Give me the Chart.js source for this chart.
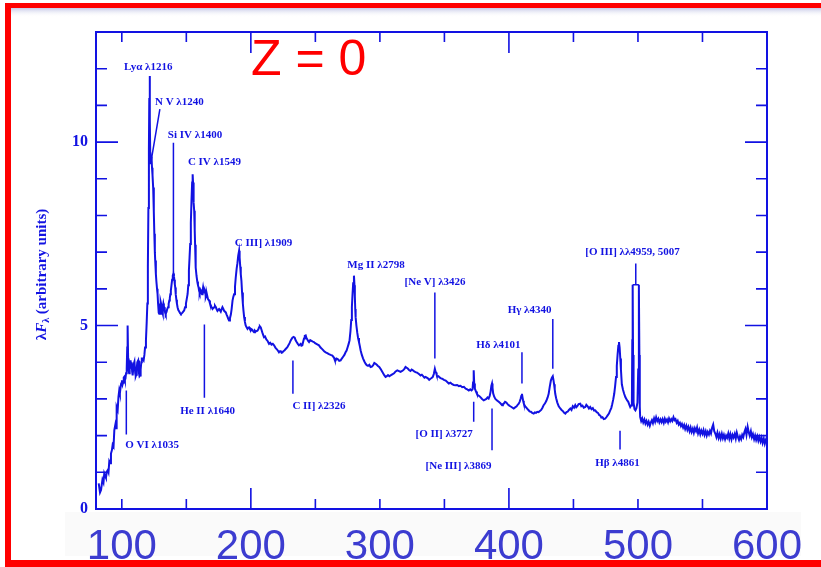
<!DOCTYPE html>
<html>
<head>
<meta charset="utf-8">
<script src="https://cdn.jsdelivr.net/npm/chart.js@4.4.1/dist/chart.umd.min.js"></script>
<style>
  html, body { margin: 0; padding: 0; background: #fff; }
  canvas { display: block; }
</style>
</head>
<body>
<canvas id="quasar" width="821" height="567"></canvas>
<script>
// composite quasar spectrum, rest frame (Z = 0)
// wavelength in Angstrom, flux = lambda*F_lambda (arbitrary units)
var wavelength = [
  821, 831, 839, 850, 858, 864, 871, 877, 884, 891,
  897, 903, 910, 916, 923, 929, 936, 942, 950, 955,
  960, 968, 974, 980, 985, 990, 995, 1001, 1006, 1010,
  1015, 1019, 1024, 1028, 1033, 1038, 1042, 1045, 1049, 1053,
  1057, 1061, 1068, 1072, 1076, 1080, 1084, 1088, 1092, 1098,
  1104, 1108, 1112, 1116, 1120, 1127, 1133, 1137, 1141, 1146,
  1151, 1155, 1160, 1169, 1175, 1180, 1187, 1193, 1198, 1202,
  1206, 1210, 1213, 1216, 1218, 1221, 1225, 1228, 1231, 1234,
  1238, 1243, 1248, 1252, 1256, 1259, 1264, 1268, 1273, 1277,
  1281, 1284, 1288, 1290, 1294, 1297, 1301, 1305, 1308, 1310,
  1313, 1316, 1319, 1322, 1326, 1329, 1333, 1336, 1339, 1342,
  1347, 1352, 1358, 1363, 1368, 1372, 1376, 1380, 1385, 1390,
  1395, 1400, 1404, 1407, 1411, 1414, 1418, 1423, 1427, 1432,
  1438, 1445, 1451, 1458, 1464, 1470, 1476, 1483, 1490, 1497,
  1503, 1510, 1515, 1520, 1525, 1530, 1535, 1540, 1545, 1549,
  1552, 1555, 1558, 1561, 1565, 1568, 1571, 1574, 1579, 1585,
  1590, 1595, 1599, 1603, 1608, 1612, 1617, 1622, 1626, 1630,
  1634, 1638, 1642, 1646, 1649, 1652, 1656, 1659, 1664, 1668,
  1672, 1677, 1683, 1690, 1696, 1703, 1710, 1716, 1722, 1729,
  1735, 1741, 1748, 1754, 1760, 1767, 1773, 1780, 1786, 1793,
  1799, 1806, 1812, 1818, 1825, 1831, 1838, 1845, 1851, 1858,
  1864, 1870, 1877, 1883, 1890, 1896, 1902, 1909, 1913, 1918,
  1922, 1927, 1932, 1938, 1943, 1948, 1954, 1960, 1967, 1974,
  1980, 1986, 1993, 1999, 2006, 2012, 2019, 2025, 2032, 2038,
  2045, 2051, 2058, 2064, 2070, 2077, 2083, 2090, 2096, 2102,
  2110, 2120, 2130, 2141, 2150, 2160, 2170, 2180, 2190, 2200,
  2209, 2218, 2225, 2232, 2238, 2245, 2252, 2260, 2270, 2283,
  2291, 2300, 2310, 2322, 2331, 2340, 2347, 2355, 2364, 2373,
  2380, 2386, 2392, 2399, 2405, 2412, 2418, 2425, 2431, 2438,
  2444, 2451, 2460, 2470, 2480, 2489, 2498, 2508, 2518, 2528,
  2540, 2555, 2568, 2580, 2592, 2605, 2618, 2632, 2645, 2651,
  2657, 2665, 2675, 2685, 2696, 2705, 2715, 2725, 2734, 2742,
  2750, 2758, 2765, 2772, 2778, 2783, 2788, 2793, 2799, 2803,
  2806, 2809, 2812, 2818, 2825, 2831, 2838, 2844, 2851, 2860,
  2870, 2880, 2889, 2898, 2908, 2918, 2928, 2938, 2948, 2957,
  2967, 2976, 2985, 2995, 3005, 3015, 3025, 3035, 3044, 3054,
  3063, 3073, 3083, 3096, 3110, 3122, 3135, 3148, 3160, 3170,
  3180, 3190, 3199, 3208, 3218, 3228, 3237, 3246, 3256, 3266,
  3276, 3285, 3295, 3305, 3315, 3325, 3335, 3345, 3354, 3363,
  3372, 3382, 3392, 3401, 3410, 3418, 3426, 3431, 3435, 3440,
  3444, 3454, 3465, 3474, 3483, 3496, 3510, 3522, 3534, 3547,
  3560, 3573, 3586, 3599, 3612, 3625, 3638, 3651, 3665, 3677,
  3689, 3700, 3710, 3718, 3722, 3727, 3731, 3736, 3745, 3752,
  3760, 3770, 3779, 3792, 3805, 3815, 3825, 3834, 3843, 3851,
  3858, 3864, 3869, 3873, 3878, 3886, 3895, 3908, 3921, 3934,
  3947, 3953, 3960, 3970, 3980, 3990, 3998, 4010, 4020, 4028,
  4037, 4048, 4060, 4068, 4076, 4083, 4090, 4096, 4101, 4105,
  4110, 4115, 4120, 4130, 4140, 4147, 4153, 4160, 4170, 4180,
  4192, 4200, 4210, 4220, 4230, 4240, 4250, 4260, 4269, 4280,
  4290, 4300, 4308, 4316, 4325, 4333, 4340, 4345, 4350, 4355,
  4359, 4366, 4375, 4386, 4398, 4408, 4420, 4428, 4437, 4446,
  4455, 4465, 4476, 4485, 4495, 4505, 4514, 4522, 4530, 4540,
  4553, 4561, 4570, 4580, 4592, 4600, 4610, 4620, 4630, 4640,
  4650, 4660, 4669, 4680, 4690, 4700, 4708, 4716, 4725, 4735,
  4746, 4755, 4765, 4775, 4785, 4793, 4800, 4808, 4816, 4823,
  4830, 4836, 4842, 4848, 4853, 4858, 4863, 4868, 4875, 4884,
  4893, 4902, 4910, 4918, 4925, 4932, 4940, 4947, 4953, 4956,
  4959, 4962, 4966, 4973, 4980, 4988, 4996, 5002, 5007, 5011,
  5014, 5017, 5025, 5033, 5041, 5050, 5058, 5066, 5075, 5083,
  5092, 5100, 5108, 5116, 5125, 5133, 5141, 5150, 5158, 5166,
  5175, 5183, 5191, 5200, 5208, 5216, 5225, 5233, 5241, 5250,
  5258, 5266, 5275, 5283, 5291, 5300, 5308, 5316, 5325, 5333,
  5341, 5350, 5358, 5366, 5375, 5383, 5391, 5400, 5408, 5416,
  5425, 5433, 5441, 5450, 5458, 5466, 5475, 5483, 5491, 5500,
  5508, 5516, 5525, 5533, 5541, 5550, 5558, 5566, 5575, 5583,
  5591, 5600, 5608, 5616, 5625, 5633, 5641, 5650, 5658, 5666,
  5675, 5683, 5691, 5700, 5708, 5716, 5725, 5733, 5741, 5750,
  5758, 5766, 5775, 5783, 5791, 5800, 5808, 5816, 5825, 5833,
  5841, 5850, 5858, 5866, 5875, 5883, 5891, 5900, 5908, 5916,
  5925, 5933, 5941, 5950, 5958, 5966, 5975, 5983, 5991, 5998
];
var flux = [
  0.70, 0.45, 0.52, 0.80, 0.72, 0.97, 0.90, 0.85, 1.02, 1.06,
  1.00, 1.30, 1.25, 1.51, 1.60, 1.75, 1.70, 2.15, 2.30, 2.20,
  2.78, 2.70, 3.05, 3.23, 3.15, 3.30, 3.42, 3.51, 3.40, 3.45,
  3.58, 3.60, 3.52, 3.55, 3.70, 3.82, 4.40, 5.00, 4.10, 3.78,
  3.70, 3.80, 4.05, 3.85, 4.00, 3.75, 3.64, 3.80, 3.95, 4.02,
  3.70, 3.62, 3.66, 3.85, 4.00, 4.05, 3.70, 3.62, 3.64, 3.80,
  4.00, 4.10, 4.10, 4.05, 4.20, 4.40, 4.59, 5.10, 5.60, 6.60,
  8.20, 9.80, 11.20, 11.80, 10.60, 9.48, 9.40, 9.60, 9.55, 9.30,
  9.10, 8.76, 8.10, 7.50, 7.00, 6.77, 6.40, 6.20, 6.00, 5.86,
  5.60, 5.50, 5.35, 5.32, 5.50, 5.55, 5.65, 5.59, 5.40, 5.30,
  5.38, 5.32, 5.50, 5.60, 5.52, 5.50, 5.40, 5.35, 5.30, 5.32,
  5.38, 5.45, 5.50, 5.59, 5.68, 5.75, 5.85, 5.95, 6.10, 6.25,
  6.36, 6.42, 6.35, 6.25, 6.12, 6.04, 5.85, 5.70, 5.60, 5.50,
  5.42, 5.38, 5.34, 5.32, 5.33, 5.35, 5.38, 5.41, 5.50, 5.60,
  5.72, 5.86, 6.10, 6.50, 6.85, 7.22, 7.80, 8.40, 8.90, 9.12,
  8.90, 8.60, 8.35, 8.13, 7.60, 7.20, 6.85, 6.58, 6.35, 6.20,
  6.10, 6.04, 5.95, 5.90, 5.98, 5.95, 5.88, 5.85, 5.95, 6.04,
  5.95, 5.90, 5.98, 5.95, 5.84, 5.78, 5.84, 5.86, 5.78, 5.72,
  5.70, 5.68, 5.60, 5.55, 5.50, 5.45, 5.48, 5.50, 5.54, 5.50,
  5.44, 5.40, 5.43, 5.45, 5.42, 5.38, 5.44, 5.50, 5.46, 5.40,
  5.38, 5.36, 5.30, 5.25, 5.18, 5.14, 5.20, 5.30, 5.45, 5.68,
  5.78, 5.85, 6.05, 6.31, 6.55, 6.70, 6.90, 7.04, 6.85, 6.60,
  6.40, 6.22, 5.90, 5.60, 5.40, 5.23, 5.10, 5.00, 4.95, 4.91,
  4.94, 4.95, 4.90, 4.86, 4.90, 4.88, 4.84, 4.82, 4.86, 4.84,
  4.85, 4.86, 4.90, 4.95, 4.98, 4.95, 4.88, 4.80, 4.74, 4.68,
  4.70, 4.62, 4.58, 4.50, 4.53, 4.48, 4.50, 4.46, 4.40, 4.36,
  4.32, 4.27, 4.30, 4.30, 4.26, 4.27, 4.30, 4.32, 4.36, 4.41,
  4.46, 4.52, 4.60, 4.67, 4.69, 4.67, 4.60, 4.55, 4.50, 4.46,
  4.48, 4.50, 4.45, 4.46, 4.55, 4.65, 4.72, 4.73, 4.66, 4.62,
  4.58, 4.55, 4.60, 4.58, 4.56, 4.55, 4.52, 4.50, 4.48, 4.46,
  4.40, 4.35, 4.30, 4.27, 4.25, 4.22, 4.20, 4.18, 4.12, 4.06,
  4.05, 4.10, 4.08, 4.04, 4.05, 4.10, 4.15, 4.20, 4.27, 4.32,
  4.41, 4.50, 4.60, 4.85, 5.15, 5.50, 5.85, 6.15, 6.36, 6.10,
  5.80, 5.45, 5.23, 5.00, 4.80, 4.66, 4.55, 4.45, 4.32, 4.20,
  4.10, 4.02, 3.96, 3.92, 3.90, 3.93, 3.87, 3.88, 3.92, 3.98,
  3.96, 3.93, 3.90, 3.87, 3.82, 3.76, 3.70, 3.64, 3.60, 3.62,
  3.65, 3.62, 3.64, 3.67, 3.70, 3.75, 3.78, 3.76, 3.74, 3.76,
  3.78, 3.82, 3.87, 3.85, 3.82, 3.78, 3.76, 3.80, 3.78, 3.75,
  3.73, 3.72, 3.70, 3.67, 3.64, 3.66, 3.62, 3.58, 3.60, 3.58,
  3.56, 3.52, 3.55, 3.57, 3.60, 3.68, 3.82, 3.75, 3.72, 3.66,
  3.60, 3.62, 3.58, 3.56, 3.55, 3.52, 3.50, 3.46, 3.42, 3.44,
  3.40, 3.38, 3.37, 3.38, 3.35, 3.36, 3.32, 3.33, 3.28, 3.26,
  3.23, 3.26, 3.23, 3.26, 3.45, 3.78, 3.42, 3.28, 3.20, 3.14,
  3.10, 3.08, 3.05, 3.00, 2.96, 2.98, 3.00, 3.04, 3.01, 3.08,
  3.20, 3.36, 3.42, 3.30, 3.15, 3.06, 3.00, 2.96, 2.92, 2.88,
  2.83, 2.86, 2.87, 2.92, 2.90, 2.86, 2.83, 2.80, 2.78, 2.76,
  2.74, 2.77, 2.80, 2.84, 2.87, 2.92, 3.00, 3.08, 3.14, 3.05,
  2.95, 2.88, 2.83, 2.78, 2.74, 2.71, 2.69, 2.66, 2.65, 2.62,
  2.60, 2.63, 2.62, 2.65, 2.64, 2.67, 2.70, 2.76, 2.83, 2.88,
  2.95, 3.04, 3.14, 3.32, 3.50, 3.58, 3.62, 3.52, 3.40, 3.26,
  3.14, 3.02, 2.90, 2.80, 2.74, 2.70, 2.66, 2.62, 2.60, 2.64,
  2.65, 2.70, 2.74, 2.70, 2.80, 2.76, 2.83, 2.77, 2.80, 2.86,
  2.87, 2.80, 2.82, 2.76, 2.78, 2.84, 2.80, 2.74, 2.78, 2.72,
  2.75, 2.68, 2.69, 2.64, 2.62, 2.56, 2.55, 2.49, 2.50, 2.45,
  2.46, 2.50, 2.55, 2.60, 2.69, 2.75, 2.85, 2.98, 3.14, 3.35,
  3.60, 3.90, 4.20, 4.45, 4.55, 4.40, 4.10, 3.80, 3.40, 3.25,
  3.14, 3.05, 3.00, 2.95, 2.92, 2.85, 2.78, 2.82, 2.90, 4.60,
  6.11, 4.20, 2.90, 2.72, 2.69, 2.75, 2.90, 3.80, 6.11, 4.20,
  2.80, 2.51, 2.40, 2.47, 2.36, 2.44, 2.33, 2.40, 2.30, 2.38,
  2.27, 2.36, 2.42, 2.34, 2.47, 2.38, 2.50, 2.40, 2.46, 2.36,
  2.44, 2.37, 2.45, 2.35, 2.46, 2.38, 2.44, 2.36, 2.47, 2.39,
  2.45, 2.40, 2.50, 2.42, 2.45, 2.35, 2.40, 2.30, 2.35, 2.26,
  2.32, 2.22, 2.29, 2.18, 2.27, 2.16, 2.24, 2.12, 2.22, 2.10,
  2.19, 2.08, 2.20, 2.12, 2.22, 2.06, 2.16, 2.04, 2.14, 2.05,
  2.15, 2.02, 2.12, 2.00, 2.10, 2.03, 2.13, 2.06, 2.22, 2.30,
  2.12, 2.05, 1.96, 2.08, 1.94, 2.04, 1.92, 2.05, 1.93, 2.02,
  1.90, 2.00, 1.94, 2.06, 1.92, 2.04, 1.90, 2.02, 1.95, 2.05,
  1.92, 2.08, 1.96, 1.88, 1.98, 1.90, 2.02, 1.96, 2.10, 2.18,
  2.02, 2.24, 2.10, 2.00, 2.12, 1.96, 2.04, 1.90, 2.00, 1.88,
  1.98, 1.86, 1.96, 1.84, 1.94, 1.80, 1.92, 1.78, 1.88, 1.82
];

// axis ticks
var xTickValues = [1000, 2000, 3000, 4000, 5000, 6000];
var xTickLabels = ['100', '200', '300', '400', '500', '600'];
var xTickMarks = [1000, 1500, 2000, 2500, 3000, 3500, 4000, 4500, 5000, 5500];
var xMajorMarks = [2000, 4000];
var yTickValues = [0, 5, 10];
var yTickLabels = ['0', '5', '10'];
var yTickMarks = [1, 2, 3, 4, 5, 6, 7, 8, 9, 10, 11, 12];
var yMajorMarks = [5, 10];

// emission line labels (left edge of text, baseline) in data units
var lineNames = ['Ly\u03b1 \u03bb1216', 'N V \u03bb1240', 'Si IV \u03bb1400', 'C IV \u03bb1549',
  'C III] \u03bb1909', 'Mg II \u03bb2798', '[Ne V] \u03bb3426', 'H\u03b4 \u03bb4101',
  'H\u03b3 \u03bb4340', '[O III] \u03bb\u03bb4959, 5007', 'H\u03b2 \u03bb4861', 'O VI \u03bb1035',
  'He II \u03bb1640', 'C II] \u03bb2326', '[O II] \u03bb3727', '[Ne III] \u03bb3869'];
var labelX = [1017, 1257, 1357, 1512, 1876, 2748, 3191, 3746, 3990, 4592, 4669, 1027, 1452, 2322, 3276, 3354];
var labelY = [11.96, 11.0, 10.11, 9.38, 7.17, 6.58, 6.11, 4.40, 5.33, 6.93, 1.17, 1.66, 2.58, 2.72, 1.96, 1.09];

// marker strokes [x1, y1, x2, y2]
var markerLines = [
  [1295, 10.9, 1226, 9.46],
  [1400, 9.98, 1400, 6.45],
  [3426, 5.90, 3426, 4.10],
  [4101, 4.27, 4101, 3.42],
  [4340, 5.18, 4340, 3.82],
  [4983, 6.69, 4983, 6.11],
  [4959, 6.11, 5007, 6.11],
  [4861, 2.13, 4861, 1.62],
  [1035, 3.23, 1035, 2.03],
  [1640, 5.03, 1640, 3.03],
  [2326, 4.05, 2326, 3.14],
  [3727, 2.92, 3727, 2.38],
  [3869, 2.74, 3869, 1.60]
];

var blue = '#1212e2';
var serif = '"Liberation Serif", "Times New Roman", serif';

var extras = {
  id: 'extras',
  beforeDraw: function(chart) {
    var ctx = chart.ctx, a = chart.chartArea;
    ctx.save();
    ctx.fillStyle = '#ffffff';
    ctx.fillRect(0, 0, chart.width, chart.height);
    // pale box behind the big wavelength numbers
    ctx.fillStyle = '#fafafa';
    ctx.fillRect(a.left - 31, a.bottom + 3, a.right - a.left + 65, 44);
    ctx.restore();
  },
  afterDatasetsDraw: function(chart) {
    var ctx = chart.ctx, a = chart.chartArea;
    var xs = chart.scales.x, ys = chart.scales.y;
    ctx.save();
    ctx.strokeStyle = blue;
    ctx.lineWidth = 2;
    ctx.strokeRect(a.left, a.top, a.right - a.left, a.bottom - a.top);

    // inward ticks on all four sides
    ctx.lineWidth = 1.6;
    ctx.beginPath();
    xTickMarks.forEach(function(v) {
      var px = xs.getPixelForValue(v);
      var len = xMajorMarks.indexOf(v) >= 0 ? 21 : 10;
      ctx.moveTo(px, a.bottom); ctx.lineTo(px, a.bottom - len);
      ctx.moveTo(px, a.top); ctx.lineTo(px, a.top + len);
    });
    yTickMarks.forEach(function(v) {
      var py = ys.getPixelForValue(v);
      var len = yMajorMarks.indexOf(v) >= 0 ? 22 : 11;
      ctx.moveTo(a.left, py); ctx.lineTo(a.left + len, py);
      ctx.moveTo(a.right, py); ctx.lineTo(a.right - len, py);
    });
    ctx.stroke();

    // line markers
    ctx.lineWidth = 1.5;
    ctx.beginPath();
    markerLines.forEach(function(m) {
      ctx.moveTo(xs.getPixelForValue(m[0]), ys.getPixelForValue(m[1]));
      ctx.lineTo(xs.getPixelForValue(m[2]), ys.getPixelForValue(m[3]));
    });
    ctx.stroke();

    // line names
    ctx.fillStyle = blue;
    ctx.font = 'bold 11px ' + serif;
    ctx.textAlign = 'left';
    ctx.textBaseline = 'alphabetic';
    lineNames.forEach(function(name, i) {
      ctx.fillText(name, xs.getPixelForValue(labelX[i]), ys.getPixelForValue(labelY[i]));
    });

    // y axis title: lambda F_lambda (arbitrary units)
    ctx.translate(42, (a.top + a.bottom) / 2 + 4);
    ctx.rotate(-Math.PI / 2);
    var parts = [
      { t: '\u03bb', f: 'bold 15px ' + serif, dy: 0 },
      { t: 'F', f: 'italic bold 15px ' + serif, dy: 0 },
      { t: '\u03bb', f: 'bold 10px ' + serif, dy: 4 },
      { t: ' (arbitrary units)', f: 'bold 15px ' + serif, dy: 0 }
    ];
    var total = 0;
    parts.forEach(function(p) { ctx.font = p.f; p.w = ctx.measureText(p.t).width; total += p.w; });
    var cx = -total / 2;
    ctx.textBaseline = 'middle';
    parts.forEach(function(p) {
      ctx.font = p.f;
      ctx.fillText(p.t, cx, p.dy);
      cx += p.w;
    });
    ctx.restore();

    // redshift title
    ctx.save();
    ctx.fillStyle = '#ff0000';
    ctx.font = '50px "Liberation Sans", Arial, sans-serif';
    ctx.textAlign = 'left';
    ctx.textBaseline = 'alphabetic';
    ctx.fillText('Z = 0', a.left + 155, a.top + 43);
    ctx.restore();
  },
  afterDraw: function(chart) {
    var ctx = chart.ctx, W = chart.width, H = chart.height;
    ctx.save();
    var g = ctx.createLinearGradient(0, 7, 0, 17);
    g.addColorStop(0, 'rgba(160,165,215,0.75)');
    g.addColorStop(1, 'rgba(255,255,255,0)');
    ctx.fillStyle = g;
    ctx.fillRect(11, 7, W - 11, 10);
    ctx.fillStyle = '#ff0000';
    ctx.fillRect(5, 3, 6, H - 3);
    ctx.fillRect(5, 3, W - 5, 5);
    ctx.fillRect(5, H - 7, W - 5, 7);
    ctx.restore();
  }
};

var points = wavelength.map(function(w, i) { return { x: w, y: flux[i] }; });

new Chart(document.getElementById('quasar'), {
  type: 'line',
  data: {
    datasets: [{
      data: points,
      borderColor: blue,
      borderWidth: 2,
      pointRadius: 0,
      tension: 0,
      fill: false
    }]
  },
  options: {
    responsive: false,
    animation: false,
    devicePixelRatio: 1,
    layout: { padding: { left: 0, top: 32, right: 54, bottom: 0 } },
    plugins: {
      legend: { display: false },
      title: { display: false },
      tooltip: { enabled: false }
    },
    scales: {
      x: {
        type: 'linear',
        min: 800,
        max: 6000,
        border: { display: false },
        grid: { display: false, drawTicks: false },
        afterBuildTicks: function(s) { s.ticks = xTickValues.map(function(v) { return { value: v }; }); },
        afterFit: function(s) { s.height = 58; },
        ticks: {
          autoSkip: false,
          maxRotation: 0,
          minRotation: 0,
          padding: 13,
          color: '#3c3cd0',
          font: { family: '"Liberation Sans", Arial, sans-serif', size: 42 },
          callback: function(v) {
            var i = xTickValues.indexOf(v);
            return i >= 0 ? xTickLabels[i] : '';
          }
        }
      },
      y: {
        type: 'linear',
        min: 0,
        max: 13,
        border: { display: false },
        grid: { display: false, drawTicks: false },
        afterBuildTicks: function(s) { s.ticks = yTickValues.map(function(v) { return { value: v }; }); },
        afterFit: function(s) { s.width = 96; },
        ticks: {
          padding: 8,
          color: blue,
          font: { family: serif, size: 16, weight: 'bold' },
          callback: function(v) {
            var i = yTickValues.indexOf(v);
            return i >= 0 ? yTickLabels[i] : '';
          }
        }
      }
    }
  },
  plugins: [extras]
});
</script>
</body>
</html>
